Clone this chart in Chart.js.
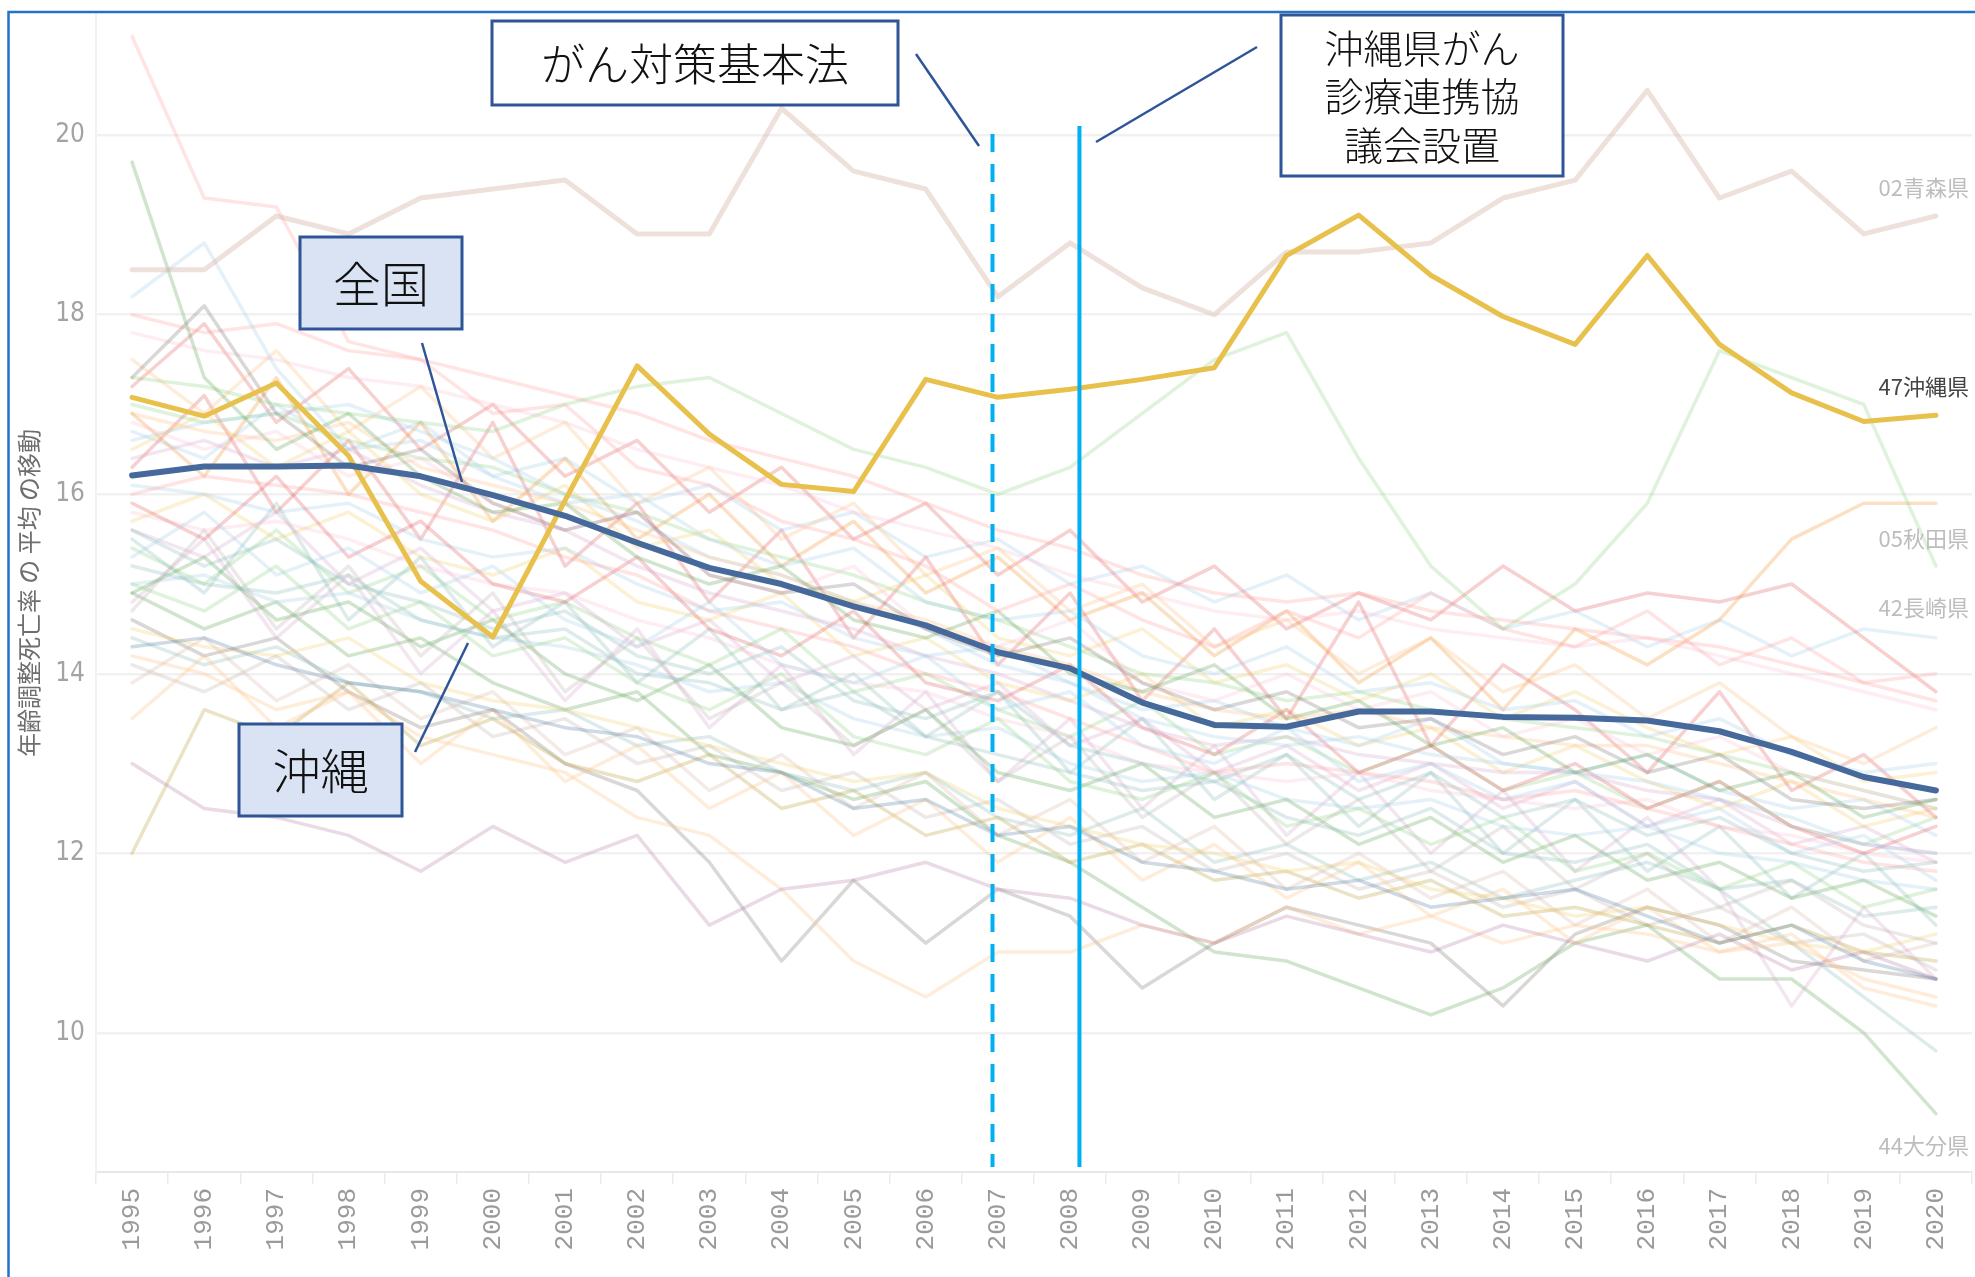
<!DOCTYPE html>
<html lang="ja">
<head>
<meta charset="utf-8">
<title>年齢調整死亡率の推移</title>
<script src="https://cdn.jsdelivr.net/npm/chart.js@4.4.1/dist/chart.umd.min.js"></script>
<style>
  html, body { margin: 0; padding: 0; background: #fff; }
  #wrap { position: relative; width: 1975px; height: 1277px; }
</style>
</head>
<body>
<div id="wrap"><canvas id="chart" width="1975" height="1277"></canvas></div>
<script>
const years = ['1995','1996','1997','1998','1999','2000','2001','2002','2003','2004','2005','2006','2007',
               '2008','2009','2010','2011','2012','2013','2014','2015','2016','2017','2018','2019','2020'];
const yTicks = [10, 12, 14, 16, 18, 20];

// highlighted series
const national = [16.21,16.31,16.31,16.32,16.20,15.99,15.76,15.46,15.18,15.00,14.75,14.54,14.24,
                  14.06,13.68,13.43,13.41,13.58,13.58,13.52,13.51,13.48,13.36,13.13,12.85,12.70];
const okinawa = [17.08,16.87,17.24,16.43,15.03,14.41,15.93,17.43,16.67,16.11,16.03,17.28,17.08,
                 17.17,17.28,17.41,18.66,19.11,18.44,17.98,17.67,18.66,17.67,17.13,16.81,16.88];

// other prefectures (faded)
const p01 = [21.1,19.3,19.2,17.7,17.5,16.9,17.0,16.3,16.1,15.7,15.5,15.2,14.7,15.0,14.6,14.3,14.7,14.4,14.9,14.5,14.3,14.7,14.1,14.4,13.9,14.0];
const p02 = [18.5,18.5,19.1,18.9,19.3,19.4,19.5,18.9,18.9,20.3,19.6,19.4,18.2,18.8,18.3,18.0,18.7,18.7,18.8,19.3,19.5,20.5,19.3,19.6,18.9,19.1];
const p03 = [19.7,17.3,16.5,16.9,16.2,15.8,15.9,15.3,15.0,15.2,14.6,14.4,14.7,14.0,13.8,14.1,13.5,13.7,13.2,13.4,12.9,13.1,12.7,12.9,12.4,12.6];
const p04 = [18.2,18.8,17.4,16.5,16.6,16.2,15.9,16.0,15.5,15.2,15.4,14.8,14.6,14.7,14.2,14.0,14.3,13.8,13.9,13.6,13.7,13.3,13.5,13.1,12.9,13.0];
const p05 = [17.3,17.2,17.0,16.9,16.8,16.7,17.0,17.2,17.3,16.9,16.5,16.3,16.0,16.3,16.9,17.5,17.8,16.4,15.2,14.5,15.0,15.9,17.6,17.3,17.0,15.2];
const p06 = [17.3,18.1,16.9,16.3,16.5,15.9,15.6,15.8,15.1,14.9,15.0,14.5,14.2,14.4,13.9,13.6,13.8,13.4,13.5,13.1,13.3,12.9,13.1,12.6,12.5,12.6];
const p07 = [15.6,15.2,15.5,15.0,14.8,14.5,14.7,14.2,14.0,14.3,13.7,13.5,13.8,13.2,13.0,12.8,13.1,12.6,12.9,12.4,12.6,12.2,12.4,12.0,11.8,11.9];
const p08 = [16.8,16.5,16.7,16.2,16.4,15.9,15.6,15.8,15.1,14.9,15.2,14.5,14.3,14.6,13.9,13.7,14.0,13.6,13.8,13.3,13.5,13.1,13.3,12.9,12.7,12.5];
const p09 = [16.5,16.9,16.3,16.7,16.0,15.7,16.1,15.4,15.6,15.0,14.8,15.1,14.4,14.2,14.5,13.9,14.1,13.7,14.0,13.5,13.8,13.4,13.1,13.3,12.8,12.9];
const p10 = [15.3,15.8,15.1,15.4,14.9,15.2,14.6,14.3,14.8,14.1,13.9,14.2,13.6,13.8,13.2,13.0,13.4,12.8,13.0,12.6,12.8,12.3,12.5,12.0,12.2,11.7];
const p11 = [16.9,16.7,16.6,16.8,16.3,16.1,15.9,15.6,15.3,15.1,14.8,14.6,14.3,14.1,13.8,13.6,13.5,13.6,13.4,13.3,13.2,13.2,13.0,12.8,12.6,12.4];
const p12 = [16.4,16.6,16.3,16.5,16.1,15.8,15.6,15.2,14.9,14.7,14.5,14.2,14.0,13.7,13.4,13.2,13.3,13.1,13.0,12.9,12.9,12.7,12.6,12.3,12.1,12.0];
const p13 = [16.6,16.8,16.9,17.0,16.7,16.4,16.0,15.7,15.3,15.1,14.8,14.5,14.1,13.9,13.5,13.3,13.2,13.3,13.1,13.0,12.9,12.8,12.6,12.4,12.1,12.0];
const p14 = [16.0,16.2,16.1,16.0,15.8,15.6,15.3,15.1,14.7,14.5,14.3,14.0,13.8,13.5,13.2,12.9,13.0,12.9,12.8,12.6,12.7,12.5,12.3,12.1,11.9,11.8];
const p15 = [14.3,14.4,14.1,13.9,13.8,13.6,13.4,13.3,13.0,12.9,12.5,12.6,12.2,12.3,11.9,11.8,11.6,11.7,11.4,11.5,11.6,11.3,11.0,11.2,10.8,10.6];
const p16 = [15.0,14.7,15.2,14.5,14.8,14.2,14.4,13.9,13.6,14.0,13.3,13.1,13.5,12.8,12.6,12.9,12.3,12.5,12.1,12.4,11.8,12.0,11.6,11.9,11.4,11.6];
const p17 = [15.9,15.5,16.2,15.3,15.7,15.0,14.8,15.3,14.5,14.2,14.7,13.9,13.7,14.1,13.4,13.1,13.6,12.9,13.2,12.7,13.0,12.5,12.8,12.3,12.0,12.3];
const p18 = [14.7,15.6,14.5,15.2,14.2,14.9,13.8,14.4,13.5,13.9,13.2,13.6,12.8,13.3,12.4,12.9,12.1,12.6,11.8,12.3,11.6,12.0,11.4,11.7,11.2,11.0];
const p19 = [13.5,14.2,13.4,13.8,13.0,13.6,12.8,13.2,12.5,12.9,12.2,12.6,11.9,12.4,11.7,12.1,11.5,11.9,11.3,11.6,11.0,11.4,10.9,11.1,10.5,10.3];
const p20 = [13.0,12.5,12.4,12.2,11.8,12.3,11.9,12.2,11.2,11.6,11.7,11.9,11.6,11.5,11.2,11.0,11.3,11.1,10.9,11.2,11.0,10.8,11.1,10.7,10.9,10.6];
const p21 = [15.2,15.0,14.9,15.1,14.6,14.4,14.5,14.0,13.9,13.6,13.8,13.3,13.1,12.9,12.7,12.8,12.4,12.2,12.5,12.0,11.9,12.1,11.6,11.7,11.3,11.4];
const p22 = [14.5,14.3,14.2,14.4,13.9,13.7,13.6,13.4,13.2,13.0,12.8,12.9,12.5,12.3,12.1,12.0,11.8,11.9,11.6,11.5,11.3,11.4,11.2,11.0,10.9,11.1];
const p23 = [15.8,15.6,15.7,15.5,15.2,15.0,14.9,14.6,14.4,14.1,13.9,13.8,13.5,13.3,13.0,12.9,12.8,12.9,12.7,12.6,12.5,12.6,12.3,12.2,12.0,11.9];
const p24 = [14.9,15.3,14.6,14.8,14.3,14.6,14.0,13.7,14.1,13.4,13.2,13.6,12.9,12.7,13.0,12.4,12.6,12.1,12.4,11.9,12.2,11.7,11.9,11.5,11.7,11.3];
const p25 = [13.9,14.4,13.7,14.1,13.5,13.8,13.1,13.4,12.7,13.1,12.5,12.9,12.2,12.6,11.9,12.3,11.6,12.0,11.5,11.8,11.2,11.6,11.0,11.4,10.8,11.0];
const p26 = [16.1,16.0,15.8,15.9,15.5,15.3,15.4,15.0,14.7,14.8,14.4,14.2,14.3,13.9,13.6,13.7,13.4,13.2,13.5,13.0,12.9,13.1,12.7,12.5,12.6,12.2];
const p27 = [18.0,17.8,17.9,17.6,17.5,17.3,17.1,16.9,16.6,16.4,16.2,15.9,15.6,15.4,15.1,14.9,14.8,14.9,14.7,14.6,14.5,14.4,14.3,14.1,13.9,13.7];
const p28 = [17.0,16.8,16.9,16.6,16.4,16.3,16.0,15.8,15.5,15.3,15.1,14.8,14.6,14.3,14.0,13.9,13.7,13.8,13.6,13.5,13.4,13.3,13.1,12.9,12.7,12.5];
const p29 = [15.6,15.3,15.8,15.0,15.4,14.7,14.9,14.3,14.6,13.9,14.2,13.6,13.9,13.2,13.5,12.9,13.2,12.7,13.0,12.5,12.8,12.3,12.6,12.1,12.3,11.9];
const p30 = [17.5,16.9,17.6,16.7,17.2,16.4,16.8,15.9,16.3,15.5,15.9,15.1,15.4,14.7,15.0,14.3,14.6,14.0,14.4,13.8,14.1,13.5,13.9,13.3,13.0,13.4];
const p31 = [16.3,17.1,15.8,16.6,15.5,16.8,15.2,15.9,14.8,15.6,14.4,15.3,14.1,14.9,13.7,14.5,13.5,14.8,13.2,14.1,13.6,12.9,13.8,12.7,13.1,12.4];
const p32 = [15.5,14.9,15.9,14.6,15.3,14.3,14.8,13.9,14.5,13.6,14.0,13.3,13.8,12.9,13.5,12.6,13.1,12.3,12.9,12.0,12.6,11.8,12.3,11.5,12.0,11.2];
const p33 = [14.2,14.0,13.6,13.8,13.3,13.1,12.9,12.4,12.2,11.6,10.8,10.4,10.9,10.9,11.2,11.0,11.4,11.1,11.3,11.0,11.2,11.1,10.9,11.0,10.6,10.4];
const p34 = [15.0,15.1,14.8,14.9,14.6,14.4,14.3,14.1,13.8,13.9,13.5,13.3,13.4,13.0,12.8,12.9,12.6,12.5,12.6,12.3,12.2,12.3,12.0,11.9,11.7,11.6];
const p35 = [15.7,16.0,15.5,15.8,15.3,15.1,15.4,14.8,14.6,14.9,14.2,14.4,13.9,13.7,14.0,13.4,13.6,13.2,13.4,12.9,13.2,12.8,12.5,12.8,12.3,12.5];
const p36 = [14.8,15.5,14.4,15.1,14.0,14.7,13.7,14.5,13.4,14.1,13.1,13.8,12.8,13.5,12.5,13.2,12.2,12.9,12.0,12.7,11.8,12.4,11.6,10.3,11.4,10.6];
const p37 = [12.0,13.6,13.3,13.9,13.2,13.5,13.0,12.8,13.1,12.5,12.7,12.2,12.4,11.9,12.1,11.7,11.8,11.5,11.7,11.3,11.4,11.2,11.0,11.2,10.9,10.8];
const p38 = [15.4,15.0,15.6,14.9,15.2,14.6,14.8,14.4,14.1,14.5,13.8,14.0,13.6,13.3,13.7,13.1,13.3,12.9,13.2,12.7,12.9,12.5,12.8,12.3,12.1,12.4];
const p39 = [16.9,16.2,17.3,16.0,16.8,15.7,16.4,15.5,16.0,15.2,15.7,14.9,15.3,14.6,14.9,14.2,14.7,13.9,14.4,13.6,14.5,14.1,14.6,15.5,15.9,15.9];
const p40 = [17.8,17.6,17.5,17.3,17.2,17.0,16.8,16.5,16.3,16.1,15.8,15.6,15.4,15.1,14.9,14.7,14.6,14.7,14.5,14.4,14.3,14.4,14.2,14.0,13.8,13.6];
const p41 = [17.2,17.9,16.8,17.4,16.5,17.0,16.2,16.6,15.8,16.3,15.5,15.9,15.1,15.6,14.8,15.2,14.5,14.9,14.6,15.2,14.7,14.9,14.8,15.0,14.4,13.8];
const p42 = [16.7,16.4,17.0,16.5,16.8,16.2,16.4,15.9,16.1,15.6,15.8,15.3,15.5,15.0,15.2,14.8,15.1,14.6,14.9,14.5,14.7,14.3,14.6,14.2,14.5,14.4];
const p43 = [14.4,14.1,14.3,13.9,13.8,13.5,13.6,13.2,13.3,12.9,12.7,12.9,12.4,12.2,12.5,11.9,12.1,11.7,11.9,11.5,11.7,11.9,11.6,11.0,10.4,9.8];
const p44 = [14.9,14.5,14.8,14.2,14.4,13.9,13.6,13.8,13.1,12.9,12.6,12.8,12.2,11.9,11.4,10.9,10.8,10.5,10.2,10.5,11.0,11.2,10.6,10.6,10.0,9.1];
const p45 = [14.1,13.8,14.2,13.6,13.9,13.3,13.5,13.0,13.2,12.7,12.9,12.4,12.6,12.1,12.3,11.8,12.0,11.6,11.8,11.4,11.6,11.2,11.4,11.0,11.1,10.7];
const p46 = [14.6,14.2,14.4,13.8,13.4,13.6,13.0,12.7,11.9,10.8,11.7,11.0,11.6,11.3,10.5,11.0,11.4,11.2,11.0,10.3,11.1,11.4,11.2,10.8,10.7,10.6];

const prefNames = ['01北海道','02青森県','03岩手県','04宮城県','05秋田県','06山形県','07福島県','08茨城県',
  '09栃木県','10群馬県','11埼玉県','12千葉県','13東京都','14神奈川県','15新潟県','16富山県','17石川県',
  '18福井県','19山梨県','20長野県','21岐阜県','22静岡県','23愛知県','24三重県','25滋賀県','26京都府',
  '27大阪府','28兵庫県','29奈良県','30和歌山県','31鳥取県','32島根県','33岡山県','34広島県','35山口県',
  '36徳島県','37香川県','38愛媛県','39高知県','40福岡県','41佐賀県','42長崎県','43熊本県','44大分県',
  '45宮崎県','46鹿児島県'];
const prefSeries = [p01,p02,p03,p04,p05,p06,p07,p08,p09,p10,p11,p12,p13,p14,p15,p16,p17,p18,p19,p20,p21,p22,p23,
  p24,p25,p26,p27,p28,p29,p30,p31,p32,p33,p34,p35,p36,p37,p38,p39,p40,p41,p42,p43,p44,p45,p46];

// labels shown at the right end
const endLabels = ['02青森県', '47沖縄県', '05秋田県', '42長崎県', '44大分県'];

// styles
const prefColors = ['#FF9D9A','#D7B5A6','#59A14F','#A0CBE8','#8CD17D','#79706E','#86BCB6','#FABFD2',
  '#F1CE63','#A0CBE8','#FFBE7D','#D4A6C8','#A0CBE8','#FF9D9A','#4E79A7','#8CD17D','#E15759','#BAB0AC',
  '#FFBE7D','#B07AA1','#86BCB6','#F1CE63','#FABFD2','#59A14F','#D7B5A6','#A0CBE8','#FF9D9A','#8CD17D',
  '#D4A6C8','#FFBE7D','#E15759','#86BCB6','#FFBE7D','#A0CBE8','#F1CE63','#D4A6C8','#B6992D','#8CD17D',
  '#F28E2B','#FABFD2','#E15759','#A0CBE8','#86BCB6','#59A14F','#BAB0AC','#79706E'];

function fade(hex, a) {
  const n = parseInt(hex.slice(1), 16);
  return `rgba(${(n >> 16) & 255},${(n >> 8) & 255},${n & 255},${a})`;
}

const datasets = [
  { label: '全国', data: national, borderColor: '#46699B', borderWidth: 6 },
  { label: '47沖縄県', data: okinawa, borderColor: '#E8C04C', borderWidth: 5 }
];
prefNames.forEach((name, i) => {
  const aomori = name === '02青森県';
  datasets.push({
    label: name,
    data: prefSeries[i],
    borderColor: fade(prefColors[i], aomori ? 0.42 : 0.28),
    borderWidth: aomori ? 5 : 3.5
  });
});

const jpFont = "'Noto Sans CJK JP', 'Noto Sans', sans-serif";

// blue frame round the screenshot
const framePlugin = {
  id: 'frame',
  beforeDraw(chart) {
    const ctx = chart.ctx;
    ctx.save();
    ctx.fillStyle = '#fff';
    ctx.fillRect(0, 0, chart.width, chart.height);
    ctx.restore();
  },
  afterDraw(chart) {
    const ctx = chart.ctx;
    ctx.save();
    ctx.strokeStyle = '#2472C8';
    ctx.lineWidth = 2.5;
    ctx.beginPath();
    ctx.moveTo(8.5, chart.height);
    ctx.lineTo(8.5, 12);
    ctx.lineTo(chart.width, 12);
    ctx.stroke();
    ctx.restore();
  }
};

// 2007 (dashed) and 2008 (solid) marker lines
const markerPlugin = {
  id: 'markers',
  afterDatasetsDraw(chart) {
    const { ctx, scales: { x } } = chart;
    ctx.save();
    ctx.strokeStyle = '#00B0F0';
    ctx.lineWidth = 4;
    ctx.setLineDash([18, 12]);
    let px = x.getPixelForValue(years.indexOf('2007') - 0.075);
    ctx.beginPath(); ctx.moveTo(px, 134); ctx.lineTo(px, 1167); ctx.stroke();
    ctx.setLineDash([]);
    px = x.getPixelForValue(years.indexOf('2008') + 0.13);
    ctx.beginPath(); ctx.moveTo(px, 126); ctx.lineTo(px, 1167); ctx.stroke();
    ctx.restore();
  }
};

// names at the right edge
const endLabelPlugin = {
  id: 'endLabels',
  afterDatasetsDraw(chart) {
    const ctx = chart.ctx;
    const right = 1969;
    const ys = [188, 387, 539, 608, 1146];
    ctx.save();
    ctx.font = `22px ${jpFont}`;
    ctx.textAlign = 'right';
    ctx.textBaseline = 'middle';
    endLabels.forEach((t, i) => {
      ctx.fillStyle = t === '47沖縄県' ? '#444' : '#bdbdbd';
      ctx.fillText(t, right, ys[i]);
    });
    ctx.restore();
  }
};

// callout boxes and leader lines
const notes = [
  { x: 492, y: 21, w: 406, h: 84, fill: '#ffffff', lines: ['がん対策基本法'], size: 44, lh: 48 },
  { x: 1281, y: 15, w: 282, h: 161, fill: '#ffffff', lines: ['沖縄県がん', '診療連携協', '議会設置'], size: 39, lh: 48.5 },
  { x: 300, y: 237, w: 162, h: 92, fill: '#DAE3F3', lines: ['全国'], size: 48, lh: 48 },
  { x: 239, y: 724, w: 163, h: 92, fill: '#DAE3F3', lines: ['沖縄'], size: 48, lh: 48 }
];
const leaders = [[916, 54, 979, 146], [1257, 47, 1096, 142], [422, 343, 462, 482], [415, 752, 468, 643]];

const notePlugin = {
  id: 'notes',
  afterDraw(chart) {
    const ctx = chart.ctx;
    ctx.save();
    ctx.strokeStyle = '#2F5597';
    ctx.lineWidth = 2.5;
    leaders.forEach(([a, b, c, d]) => {
      ctx.beginPath(); ctx.moveTo(a, b); ctx.lineTo(c, d); ctx.stroke();
    });
    notes.forEach(n => {
      ctx.fillStyle = n.fill;
      ctx.fillRect(n.x, n.y, n.w, n.h);
      ctx.lineWidth = 3;
      ctx.strokeRect(n.x, n.y, n.w, n.h);
      ctx.fillStyle = '#111';
      ctx.font = `300 ${n.size}px ${jpFont}`;
      ctx.textAlign = 'center';
      ctx.textBaseline = 'middle';
      const cy = n.y + n.h / 2 - (n.lines.length - 1) * n.lh / 2;
      n.lines.forEach((t, i) => ctx.fillText(t, n.x + n.w / 2, cy + i * n.lh + 1));
    });
    ctx.restore();
  }
};

new Chart(document.getElementById('chart'), {
  type: 'line',
  data: { labels: years, datasets },
  options: {
    responsive: false,
    animation: false,
    events: [],
    layout: { padding: { left: 0, right: 3, top: 14, bottom: 0 } },
    plugins: { legend: { display: false }, tooltip: { enabled: false } },
    elements: {
      point: { radius: 0 },
      line: { tension: 0, borderJoinStyle: 'round', borderCapStyle: 'round' }
    },
    scales: {
      x: {
        type: 'category',
        offset: true,
        grid: { offset: true, drawOnChartArea: false, drawTicks: true, tickLength: 12, color: '#ebebeb', lineWidth: 1.5 },
        border: { color: '#e8e8e8', width: 2 },
        ticks: {
          autoSkip: false, minRotation: 90, maxRotation: 90, padding: 4, color: '#9a9a9a',
          font: { family: "'Liberation Mono', 'DejaVu Sans Mono', monospace", size: 26 }
        },
        afterFit: s => { s.height = 105; s.paddingLeft = 0; s.paddingRight = 0; }
      },
      y: {
        min: 8.45,
        max: 21.35,
        afterBuildTicks: s => { s.ticks = yTicks.map(v => ({ value: v })); },
        grid: { color: '#f1f1f1', lineWidth: 2.5, drawTicks: false },
        border: { color: '#f2f2f2', width: 2 },
        ticks: {
          padding: 11, color: '#a3a3a3',
          font: { family: "'Liberation Sans Narrow', 'DejaVu Sans Condensed', sans-serif", size: 26 }
        },
        title: {
          display: true,
          text: '年齢調整死亡率 の 平均 の移動',
          color: '#6e6e6e',
          font: { family: jpFont, size: 24 },
          padding: { top: 14, bottom: 0 }
        },
        afterFit: s => { s.width = 96; s.paddingTop = 0; s.paddingBottom = 0; }
      }
    }
  },
  plugins: [framePlugin, markerPlugin, endLabelPlugin, notePlugin]
});
</script>
</body>
</html>
